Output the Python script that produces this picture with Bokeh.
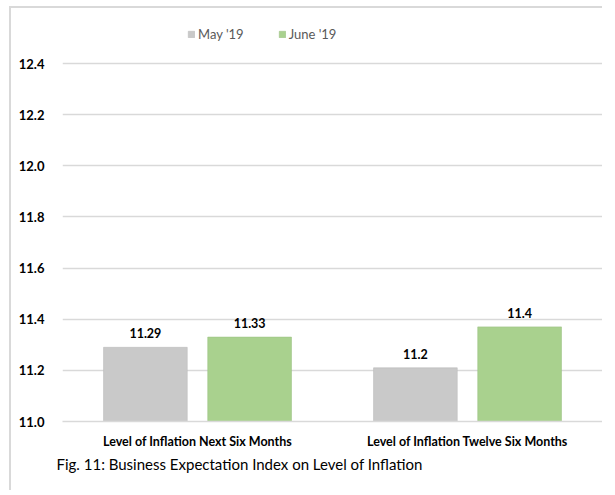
from bokeh.plotting import figure
from bokeh.models import (ColumnDataSource, FactorRange, Range1d, Legend, LegendItem,
                          Title, FixedTicker, NumeralTickFormatter)
from bokeh.transform import dodge
from bokeh.core.properties import value
from bokeh.embed import file_html
from bokeh.resources import INLINE

categories = ["Level of Inflation Next Six Months", "Level of Inflation Twelve Six Months"]
may_values = [11.29, 11.21]
june_values = [11.33, 11.37]
may_labels = ["11.29", "11.2"]
june_labels = ["11.33", "11.4"]
series_names = ["May '19", "June '19"]
y_ticks = [11.0, 11.2, 11.4, 11.6, 11.8, 12.0, 12.2, 12.4]
title_text = "Fig. 11: Business Expectation Index on Level of Inflation"

FONT = "Lato"
GRAY = "#c9c9c9"
GREEN = "#a9d18e"

# frame extends above the top gridline (12.4) to hold the legend
Y_START = 11.0
Y_END = 11.0 + 1.4 * 401 / 358

src = ColumnDataSource(dict(cat=categories, may=may_values, june=june_values,
                            may_lab=may_labels, june_lab=june_labels))

p = figure(x_range=FactorRange(*categories, range_padding=0), y_range=Range1d(Y_START, Y_END),
           width=593, height=484, output_backend="svg", toolbar_location=None,
           title=None, min_border_left=51, min_border_right=2, min_border_top=12,
           min_border_bottom=71)
p.styles = {"border-left": "2px solid #d9d9d9", "border-top": "2px solid #d9d9d9",
            "margin-left": "9px", "margin-top": "6px"}
p.outline_line_color = None
p.background_fill_color = "white"
p.border_fill_color = "white"

r_may = p.vbar(x=dodge("cat", -0.193, range=p.x_range), top="may", bottom=11.0, width=0.31,
               source=src, fill_color=GRAY, line_color="#bdbdbd", line_alpha=0.6)
r_june = p.vbar(x=dodge("cat", 0.193, range=p.x_range), top="june", bottom=11.0, width=0.31,
                source=src, fill_color=GREEN, line_color="#9cc283", line_alpha=0.6)

for col, lab, off in (("may", "may_lab", -0.193), ("june", "june_lab", 0.193)):
    p.text(x=dodge("cat", off, range=p.x_range), y=col, text=lab, source=src,
           text_align="center", text_baseline="bottom", y_offset=-9,
           text_font=value(FONT), text_font_style="bold", text_font_size="12.5px",
           text_color="#000000")

# axes
p.yaxis.ticker = FixedTicker(ticks=y_ticks)
p.yaxis.formatter = NumeralTickFormatter(format="0.0")
p.yaxis.axis_line_color = None
p.yaxis.major_tick_line_color = None
p.yaxis.minor_tick_line_color = None
p.yaxis.major_label_standoff = 12
p.yaxis.major_label_text_font = FONT
p.yaxis.major_label_text_font_style = "bold"
p.yaxis.major_label_text_font_size = "13px"
p.yaxis.major_label_text_color = "#000000"

p.xaxis.axis_line_color = "#d9d9d9"
p.xaxis.axis_line_width = 1.5
p.xaxis.major_tick_line_color = None
p.xaxis.minor_tick_line_color = None
p.xaxis.major_label_standoff = 6
p.xaxis.major_label_text_font = FONT
p.xaxis.major_label_text_font_style = "bold"
p.xaxis.major_label_text_font_size = "12.5px"
p.xaxis.major_label_text_color = "#000000"

p.xgrid.grid_line_color = None
p.ygrid.grid_line_color = "#d9d9d9"
p.ygrid.grid_line_width = 1.5

legend = Legend(items=[LegendItem(label=series_names[0], renderers=[r_may]),
                       LegendItem(label=series_names[1], renderers=[r_june])],
                orientation="horizontal", location=(125, 377),
                glyph_width=8, glyph_height=8, label_standoff=3, spacing=34,
                padding=0, margin=0, border_line_color=None, background_fill_alpha=0,
                label_text_font=FONT, label_text_font_size="13px",
                label_text_color="#595959", label_height=20)
p.add_layout(legend, "center")

t = Title(text=title_text, align="left", offset=-6, standoff=3,
          text_font=FONT, text_font_size="15px", text_font_style="normal",
          text_color="#000000")
p.add_layout(t, "below")

open("out.html", "w").write(file_html(p, INLINE))
